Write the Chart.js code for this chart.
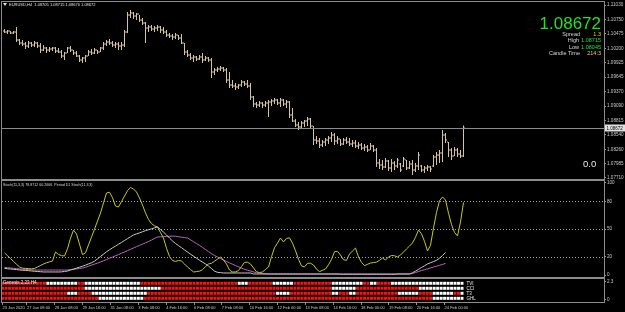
<!DOCTYPE html>
<html>
<head>
<meta charset="utf-8">
<script src="https://cdn.jsdelivr.net/npm/chart.js@4.4.1/dist/chart.umd.min.js"></script>
<style>
  html, body { margin: 0; padding: 0; background: #000; }
  #wrap { position: relative; width: 625px; height: 312px; overflow: hidden; background: #000; }
  canvas { position: absolute; left: 0; }
</style>
</head>
<body>
<div id="wrap">
  <canvas id="priceChart" width="625" height="180" style="top:0px"></canvas>
  <canvas id="stochChart" width="625" height="98" style="top:180px"></canvas>
  <canvas id="matrixChart" width="625" height="34" style="top:278px"></canvas>
</div>
<script>
// EURUSD H4 bars, 23 Jan -> 24 Feb 2020
const opens = [
  1.10531, 1.10512, 1.10531, 1.10492, 1.10512, 1.10358, 1.10300, 1.10281, 1.10243, 1.10300,
  1.10262, 1.10300, 1.10243, 1.10166, 1.10204, 1.10166, 1.10185, 1.10204, 1.10147, 1.10128,
  1.10051, 1.10108, 1.10204, 1.10166, 1.10108, 1.10051, 1.09974, 1.10012, 1.10051, 1.10128,
  1.10108, 1.10166, 1.10128, 1.10204, 1.10281, 1.10320, 1.10300, 1.10262, 1.10281, 1.10243,
  1.10262, 1.10512, 1.10838, 1.10876, 1.10819, 1.10857, 1.10742, 1.10684, 1.10588, 1.10608,
  1.10569, 1.10588, 1.10608, 1.10550, 1.10512, 1.10454, 1.10435, 1.10416, 1.10454, 1.10396,
  1.10300, 1.10128, 1.10070, 1.10012, 1.10032, 1.09993, 1.10032, 1.09974, 1.10012, 1.09974,
  1.09744, 1.09782, 1.09801, 1.09820, 1.09782, 1.09590, 1.09494, 1.09475, 1.09456, 1.09494,
  1.09552, 1.09513, 1.09475, 1.09264, 1.09129, 1.09110, 1.09148, 1.09110, 1.09148, 1.09168,
  1.09187, 1.09206, 1.09148, 1.09206, 1.09129, 1.09168, 1.08918, 1.08803, 1.08726, 1.08688,
  1.08764, 1.08803, 1.08841, 1.08707, 1.08438, 1.08419, 1.08342, 1.08400, 1.08438, 1.08476,
  1.08534, 1.08419, 1.08457, 1.08361, 1.08438, 1.08400, 1.08361, 1.08380, 1.08323, 1.08342,
  1.08284, 1.08304, 1.08246, 1.08323, 1.08246, 1.07996, 1.07958, 1.07920, 1.08035, 1.07900,
  1.07996, 1.07939, 1.07977, 1.07939, 1.08054, 1.07900, 1.07977, 1.07862, 1.07939, 1.07939,
  1.07862, 1.07900, 1.07920, 1.07939, 1.08112, 1.08150, 1.08188, 1.08534, 1.08400, 1.08246,
  1.08131, 1.08246, 1.08169, 1.08131
];
const highs = [
  1.10569, 1.10550, 1.10531, 1.10531, 1.10608, 1.10377, 1.10358, 1.10320, 1.10339, 1.10320,
  1.10339, 1.10320, 1.10300, 1.10262, 1.10224, 1.10224, 1.10224, 1.10224, 1.10204, 1.10166,
  1.10128, 1.10224, 1.10243, 1.10166, 1.10147, 1.10070, 1.10032, 1.10070, 1.10166, 1.10185,
  1.10204, 1.10166, 1.10224, 1.10320, 1.10358, 1.10377, 1.10339, 1.10320, 1.10320, 1.10320,
  1.10550, 1.10896, 1.10934, 1.10896, 1.10876, 1.10838, 1.10780, 1.10704, 1.10646, 1.10646,
  1.10627, 1.10646, 1.10627, 1.10608, 1.10550, 1.10492, 1.10473, 1.10492, 1.10454, 1.10473,
  1.10300, 1.10166, 1.10108, 1.10070, 1.10051, 1.10070, 1.10108, 1.10051, 1.10032, 1.10012,
  1.09820, 1.09840, 1.09859, 1.09840, 1.09820, 1.09744, 1.09590, 1.09532, 1.09513, 1.09590,
  1.09571, 1.09590, 1.09532, 1.09283, 1.09168, 1.09187, 1.09168, 1.09187, 1.09206, 1.09225,
  1.09244, 1.09225, 1.09244, 1.09225, 1.09206, 1.09187, 1.09052, 1.08841, 1.08784, 1.08803,
  1.08822, 1.08880, 1.08860, 1.08707, 1.08515, 1.08476, 1.08438, 1.08476, 1.08515, 1.08592,
  1.08572, 1.08515, 1.08457, 1.08476, 1.08496, 1.08476, 1.08438, 1.08438, 1.08400, 1.08380,
  1.08361, 1.08342, 1.08380, 1.08342, 1.08284, 1.08073, 1.08054, 1.08092, 1.08054, 1.08073,
  1.08035, 1.08092, 1.07996, 1.08112, 1.08054, 1.08035, 1.08054, 1.07996, 1.08208, 1.07958,
  1.07939, 1.07958, 1.07939, 1.08150, 1.08208, 1.08246, 1.08630, 1.08572, 1.08400, 1.08284,
  1.08304, 1.08284, 1.08246, 1.08715
];
const lows = [
  1.10492, 1.10473, 1.10473, 1.10473, 1.10320, 1.10262, 1.10243, 1.10185, 1.10204, 1.10224,
  1.10224, 1.10204, 1.10108, 1.10147, 1.10108, 1.10128, 1.10147, 1.10108, 1.10108, 1.10012,
  1.09974, 1.10108, 1.10128, 1.10070, 1.10032, 1.09936, 1.09916, 1.09936, 1.10051, 1.10070,
  1.10089, 1.10089, 1.10128, 1.10166, 1.10243, 1.10262, 1.10224, 1.10204, 1.10166, 1.10166,
  1.10224, 1.10492, 1.10780, 1.10761, 1.10742, 1.10704, 1.10646, 1.10300, 1.10512, 1.10531,
  1.10512, 1.10531, 1.10492, 1.10473, 1.10416, 1.10396, 1.10358, 1.10377, 1.10358, 1.10281,
  1.10070, 1.10032, 1.09974, 1.09936, 1.09955, 1.09974, 1.09916, 1.09955, 1.09936, 1.09628,
  1.09686, 1.09744, 1.09763, 1.09744, 1.09532, 1.09436, 1.09436, 1.09398, 1.09417, 1.09456,
  1.09475, 1.09436, 1.09206, 1.09072, 1.09052, 1.09072, 1.09052, 1.09072, 1.08880, 1.09091,
  1.09129, 1.09110, 1.09072, 1.09091, 1.09052, 1.08860, 1.08784, 1.08688, 1.08630, 1.08668,
  1.08688, 1.08707, 1.08668, 1.08342, 1.08361, 1.08284, 1.08304, 1.08323, 1.08361, 1.08400,
  1.08342, 1.08361, 1.08323, 1.08342, 1.08361, 1.08323, 1.08304, 1.08284, 1.08265, 1.08246,
  1.08227, 1.08208, 1.08246, 1.08208, 1.07920, 1.07881, 1.07862, 1.07900, 1.07843, 1.07824,
  1.07862, 1.07900, 1.07824, 1.07920, 1.07862, 1.07881, 1.07766, 1.07824, 1.07862, 1.07824,
  1.07804, 1.07843, 1.07824, 1.07920, 1.07958, 1.07996, 1.08016, 1.08380, 1.08112, 1.08054,
  1.08131, 1.08112, 1.08092, 1.08112
];
const closes = [
  1.10512, 1.10531, 1.10492, 1.10512, 1.10358, 1.10300, 1.10281, 1.10243, 1.10300, 1.10262,
  1.10300, 1.10243, 1.10166, 1.10204, 1.10166, 1.10185, 1.10204, 1.10147, 1.10128, 1.10051,
  1.10108, 1.10204, 1.10166, 1.10108, 1.10051, 1.09974, 1.10012, 1.10051, 1.10128, 1.10108,
  1.10166, 1.10128, 1.10204, 1.10281, 1.10320, 1.10300, 1.10262, 1.10281, 1.10243, 1.10262,
  1.10512, 1.10838, 1.10876, 1.10819, 1.10857, 1.10742, 1.10684, 1.10588, 1.10608, 1.10569,
  1.10588, 1.10608, 1.10550, 1.10512, 1.10454, 1.10435, 1.10416, 1.10454, 1.10396, 1.10300,
  1.10128, 1.10070, 1.10012, 1.10032, 1.09993, 1.10032, 1.09974, 1.10012, 1.09974, 1.09744,
  1.09782, 1.09801, 1.09820, 1.09782, 1.09590, 1.09494, 1.09475, 1.09456, 1.09494, 1.09552,
  1.09513, 1.09475, 1.09264, 1.09129, 1.09110, 1.09148, 1.09110, 1.09148, 1.09168, 1.09187,
  1.09206, 1.09148, 1.09206, 1.09129, 1.09168, 1.08918, 1.08803, 1.08726, 1.08688, 1.08764,
  1.08803, 1.08841, 1.08707, 1.08438, 1.08419, 1.08342, 1.08400, 1.08438, 1.08476, 1.08534,
  1.08419, 1.08457, 1.08361, 1.08438, 1.08400, 1.08361, 1.08380, 1.08323, 1.08342, 1.08284,
  1.08304, 1.08246, 1.08323, 1.08246, 1.07996, 1.07958, 1.07920, 1.08035, 1.07900, 1.07996,
  1.07939, 1.08054, 1.07862, 1.08073, 1.07900, 1.07977, 1.07862, 1.07939, 1.08150, 1.07862,
  1.07900, 1.07920, 1.07881, 1.08112, 1.08150, 1.08188, 1.08534, 1.08438, 1.08246, 1.08131,
  1.08246, 1.08169, 1.08131, 1.08672
];
const priceTicks = [1.11030, 1.10750, 1.10475, 1.10200, 1.09925, 1.09645, 1.09370,
                    1.09090, 1.08815, 1.08540, 1.08260, 1.07985, 1.07710];
const lastPrice = 1.08672;

// Stochastic H4 main line (yellow) and D1 stochastic main / signal
const stochMain = [
  24.1, 21.0, 17.9, 14.8, 11.7, 8.7, 7.4, 7.2, 7.0, 6.7,
  7.1, 8.7, 10.3, 12.0, 13.3, 14.3, 15.2, 25.0, 22.4, 21.0,
  20.7, 28.5, 39.9, 48.8, 44.7, 33.5, 22.2, 24.1, 32.6, 41.1,
  49.7, 58.6, 67.4, 78.3, 89.1, 90.0, 84.1, 75.0, 73.9, 79.8,
  85.7, 91.6, 95.1, 93.5, 90.2, 83.7, 76.0, 67.5, 60.4, 55.9,
  53.5, 52.2, 46.2, 40.2, 29.1, 20.2, 15.7, 14.8, 15.7, 15.2,
  12.0, 8.7, 6.0, 3.3, 3.7, 4.2, 5.7, 9.1, 12.0, 12.7,
  15.0, 17.3, 19.6, 16.3, 12.0, 5.4, 3.3, 3.3, 4.8, 9.2,
  13.7, 13.9, 12.0, 7.7, 3.6, 2.6, 3.3, 6.0, 8.7, 19.8,
  29.7, 34.7, 40.2, 35.9, 39.8, 40.4, 34.6, 26.4, 17.1, 9.8,
  8.9, 12.8, 12.8, 10.9, 6.3, 3.7, 5.1, 6.5, 11.1, 17.0,
  25.4, 25.7, 21.7, 16.5, 16.0, 22.8, 26.1, 29.3, 19.6, 13.7,
  10.2, 11.6, 13.0, 13.5, 14.0, 15.9, 18.5, 16.3, 19.6, 21.2,
  20.9, 19.6, 21.7, 25.0, 28.3, 31.5, 34.8, 41.1, 48.9, 44.8,
  36.5, 26.1, 32.3, 51.1, 68.0, 80.7, 84.8, 81.5, 67.2, 54.8,
  46.3, 42.4, 57.6, 78.9
];
const d1Main = [
  7.2, 6.8, 6.5, 6.2, 5.9, 5.5, 5.2, 5.0, 4.7, 4.4,
  4.1, 3.8, 3.6, 3.3, 3.3, 3.3, 3.3, 3.3, 3.3, 3.4,
  3.9, 4.3, 5.4, 6.4, 7.4, 8.5, 9.5, 10.7, 12.0, 13.3,
  15.0, 17.5, 20.1, 22.7, 25.2, 27.4, 29.5, 31.4, 33.5, 35.4,
  37.5, 39.5, 41.5, 43.5, 44.7, 45.8, 47.0, 48.2, 49.2, 50.2,
  51.2, 52.2, 49.5, 46.7, 43.5, 40.2, 37.0, 34.3, 31.9, 29.7,
  27.3, 25.0, 22.7, 20.4, 18.3, 16.0, 14.0, 12.1, 9.8, 7.0,
  4.2, 2.9, 2.6, 2.2, 2.2, 2.2, 2.2, 2.2, 2.2, 2.2,
  2.2, 2.2, 2.2, 1.1, 1.1, 1.1, 1.1, 1.1, 1.1, 1.1,
  1.1, 1.1, 1.1, 1.1, 1.1, 1.1, 1.1, 1.1, 1.1, 1.1,
  1.1, 1.1, 1.1, 1.1, 1.1, 1.1, 1.1, 1.1, 1.1, 1.1,
  1.1, 1.1, 1.1, 1.1, 1.1, 1.1, 1.1, 1.1, 1.1, 1.1,
  1.1, 1.1, 1.1, 1.1, 1.1, 1.1, 1.1, 1.1, 1.1, 1.1,
  1.1, 1.1, 1.1, 1.1, 1.1, 1.1, 2.4, 4.2, 6.2, 8.2,
  10.0, 12.0, 13.3, 14.6, 15.9, 18.3, 21.1, 24.5, null, null,
  null, null, null, null
];
const d1Signal = [
  8.3, 7.9, 7.6, 7.3, 7.0, 6.6, 6.3, 6.1, 5.9, 5.7,
  5.4, 5.4, 5.4, 5.4, 5.4, 5.4, 5.4, 5.4, 5.4, 5.4,
  5.4, 5.4, 5.9, 6.2, 6.6, 7.1, 7.5, 8.4, 9.6, 10.7,
  11.8, 12.9, 14.1, 15.4, 16.8, 18.2, 19.5, 20.9, 22.2, 23.6,
  25.0, 26.5, 27.9, 29.3, 30.8, 32.2, 33.6, 34.9, 36.4, 38.0,
  39.7, 41.3, 41.5, 41.7, 42.0, 42.1, 42.3, 42.1, 41.6, 41.2,
  40.7, 40.2, 38.3, 36.2, 34.2, 32.2, 30.0, 27.7, 25.5, 23.3,
  21.2, 19.6, 17.9, 16.3, 14.7, 13.2, 11.7, 10.3, 8.9, 7.5,
  6.2, 5.3, 4.3, 3.4, 2.5, 2.0, 1.6, 1.3, 1.1, 1.1,
  1.1, 1.1, 1.1, 1.1, 1.1, 1.1, 1.1, 1.1, 1.1, 1.1,
  1.1, 1.1, 1.1, 1.1, 1.1, 1.1, 1.1, 1.1, 1.1, 1.1,
  1.1, 1.1, 0.5, 0.5, 0.5, 0.5, 0.5, 0.5, 0.5, 0.5,
  0.5, 0.5, 0.5, 0.5, 0.5, 0.5, 0.5, 0.5, 0.5, 0.5,
  0.5, 1.1, 1.1, 1.1, 1.1, 1.1, 1.7, 2.7, 3.8, 4.8,
  5.8, 6.6, 7.6, 8.6, 9.6, 10.5, 11.5, 12.6, null, null,
  null, null, null, null
];
const stochLevels = [20, 50, 80];
const stochTicks = [0, 20, 50, 80, 100];

// Genesis matrix, one cell per bar, as runs of [count, state]: R = red, W = white
const matrixRows = ['TVI', 'CCI', 'T3', 'GHL'];
const matrixRuns = [
  [[13, 'R'], [9, 'W'], [2, 'R'], [16, 'W'], [28, 'R'], [3, 'W'], [7, 'R'], [6, 'W'], [11, 'R'],
   [9, 'W'], [2, 'R'], [2, 'W'], [4, 'R'], [21, 'W']],
  [[24, 'R'], [22, 'W'], [49, 'R'], [7, 'W'], [18, 'R'], [13, 'W']],
  [[19, 'R'], [3, 'W'], [4, 'R'], [16, 'W'], [37, 'R'], [4, 'W'], [12, 'R'], [2, 'W'], [3, 'R'],
   [2, 'W'], [12, 'R'], [6, 'W'], [4, 'R'], [6, 'W'], [2, 'R'], [1, 'W']],
  [[28, 'R'], [13, 'W'], [83, 'R'], [9, 'W']]
];

const timeLabels = ['23 Jan 2020', '27 Jan 08:00', '28 Jan 08:00', '29 Jan 16:00', '31 Jan 08:00',
  '3 Feb 08:00', '4 Feb 16:00', '6 Feb 08:00', '7 Feb 08:00', '10 Feb 16:00', '12 Feb 00:00',
  '13 Feb 08:00', '14 Feb 16:00', '18 Feb 00:00', '19 Feb 08:00', '20 Feb 16:00', '24 Feb 00:00'];
const timeLabelBars = [0, 7, 15, 23, 31, 39, 47, 55, 63, 71, 79, 87, 95, 103, 111, 119, 127];

// Styles
const FONT = '"Liberation Sans", Arial, sans-serif';
const BAR_COLOR = '#d6c49c';
const FRAME_COLOR = '#8c8c8c';
const AXIS_TEXT = '#c8c8c8';
const GREEN = '#22e022';
const GOLD = '#f0d020';

Chart.defaults.font.family = FONT;
Chart.defaults.color = AXIS_TEXT;

// expand the runs into one state per cell
const matrixCells = matrixRuns.map(runs => {
  const cells = [];
  runs.forEach(([n, s]) => { for (let k = 0; k < n; k++) cells.push(s); });
  return cells;
});

// fixed axis width so the three panes line up
function rightAxis(extra) {
  return Object.assign({
    position: 'right',
    afterFit: s => { s.width = 21; s.paddingTop = 0; s.paddingBottom = 0; },
    grid: { drawOnChartArea: false, drawTicks: true, tickLength: 2, color: '#909090' },
    border: { display: false }
  }, extra);
}

const framePlugin = {
  id: 'frame',
  beforeDraw(chart) {
    const { ctx, chartArea: a } = chart;
    ctx.save();
    ctx.strokeStyle = FRAME_COLOR;
    ctx.lineWidth = 1;
    ctx.strokeRect(a.left - 0.5, a.top - 0.5, a.right - a.left + 1, a.bottom - a.top + 1);
    ctx.restore();
  }
};

function txt(ctx, s, x, y, color, size, align) {
  ctx.fillStyle = color;
  ctx.font = size + 'px ' + FONT;
  ctx.textAlign = align || 'left';
  ctx.textBaseline = 'middle';
  ctx.fillText(s, x, y);
}

// open / close ticks of the OHLC bars
const ohlcTicks = {
  id: 'ohlcTicks',
  afterDatasetsDraw(chart) {
    const { ctx, scales: { x, y } } = chart;
    ctx.save();
    ctx.fillStyle = BAR_COLOR;
    opens.forEach((o, i) => {
      const px = Math.floor(x.getPixelForValue(i));
      ctx.fillRect(px - 1, Math.round(y.getPixelForValue(o)) - 0.5, 1, 1);
      ctx.fillRect(px + 1, Math.round(y.getPixelForValue(closes[i])) - 0.5, 1, 1);
    });
    ctx.restore();
  }
};

const priceInfo = {
  id: 'priceInfo',
  afterDraw(chart) {
    const { ctx, chartArea: a, scales: { y } } = chart;
    ctx.save();
    const py = Math.round(y.getPixelForValue(lastPrice)) + 0.5;
    ctx.strokeStyle = '#8c8c8c';
    ctx.lineWidth = 1;
    ctx.beginPath();
    ctx.moveTo(a.left, py);
    ctx.lineTo(a.right, py);
    ctx.stroke();
    ctx.fillStyle = '#e0e0e0';
    ctx.fillRect(a.right + 1, py - 4, 20, 7);
    txt(ctx, lastPrice.toFixed(5), a.right + 2.5, py, '#000', 4.5);

    // header
    ctx.fillStyle = '#e0e0e0';
    ctx.beginPath();
    ctx.moveTo(3, 3); ctx.lineTo(7, 3); ctx.lineTo(5, 6); ctx.closePath(); ctx.fill();
    txt(ctx, 'EURUSD,H4  1.08705 1.08715 1.08670 1.08672', 9, 4.5, '#e0e0e0', 4);

    // info block
    ctx.fillStyle = GREEN;
    ctx.font = '17px ' + FONT;
    ctx.textAlign = 'right';
    ctx.textBaseline = 'alphabetic';
    ctx.fillText('1.08672', 601, 29);
    txt(ctx, 'Spread', 580, 34, '#d8d8d8', 5.5, 'right');
    txt(ctx, '1.3', 601, 34, GOLD, 5.5, 'right');
    txt(ctx, 'High', 579, 40.5, '#d8d8d8', 5.5, 'right');
    txt(ctx, '1.08715', 601, 40.5, GREEN, 5.5, 'right');
    txt(ctx, 'Low', 579, 47, '#d8d8d8', 5.5, 'right');
    txt(ctx, '1.08045', 601, 47, GREEN, 5.5, 'right');
    txt(ctx, 'Candle Time', 580, 53.5, '#d8d8d8', 5.5, 'right');
    txt(ctx, '214:3', 601, 53.5, GOLD, 5.5, 'right');
    txt(ctx, '0.0', 583, 164, '#e8e8e8', 9.5, 'left');
    ctx.restore();
  }
};

const axisFont = { size: 4.6 };

new Chart(document.getElementById('priceChart'), {
  type: 'bar',
  data: {
    datasets: [{
      data: highs.map((h, i) => ({ x: i, y: [lows[i], h] })),
      backgroundColor: BAR_COLOR,
      borderWidth: 0,
      barThickness: 1,
      inflateAmount: 0
    }]
  },
  options: {
    responsive: false,
    animation: false,
    events: [],
    layout: { padding: { left: 2, top: 2, right: 0, bottom: 1 }, autoPadding: false },
    scales: {
      x: { type: 'linear', offset: false, min: -0.8333, max: 199.8333, display: false },
      y: rightAxis({
        type: 'linear', min: 1.07689, max: 1.11088,
        afterBuildTicks: s => { s.ticks = priceTicks.map(v => ({ value: v })); },
        ticks: { font: axisFont, color: AXIS_TEXT, padding: 1, autoSkip: false, callback: v => v.toFixed(5) }
      })
    },
    plugins: { legend: { display: false }, tooltip: { enabled: false } }
  },
  plugins: [framePlugin, ohlcTicks, priceInfo]
});

const stochDecor = {
  id: 'stochDecor',
  beforeDatasetsDraw(chart) {
    const { ctx, chartArea: a, scales: { y } } = chart;
    ctx.save();
    ctx.strokeStyle = '#a0a0a0';
    ctx.lineWidth = 1;
    ctx.setLineDash([1, 2]);
    stochLevels.forEach(v => {
      const py = Math.round(y.getPixelForValue(v)) + 0.5;
      ctx.beginPath();
      ctx.moveTo(a.left, py);
      ctx.lineTo(a.right, py);
      ctx.stroke();
    });
    ctx.restore();
  },
  afterDraw(chart) {
    const { ctx } = chart;
    ctx.save();
    txt(ctx, 'Stoch(11,3,3) 78.8712 60.2666  Period D1 Stoch(11,3,3)', 3, 4.5, '#d8d8d8', 3.6);
    ctx.restore();
  }
};

const toPoints = arr => arr.map((v, i) => ({ x: i, y: v }));

new Chart(document.getElementById('stochChart'), {
  type: 'line',
  data: {
    datasets: [
      { data: toPoints(stochMain), borderColor: '#c8c81a', borderWidth: 1 },
      { data: toPoints(d1Main), borderColor: '#c8c8c8', borderWidth: 1 },
      { data: toPoints(d1Signal), borderColor: '#c060c8', borderWidth: 1 }
    ]
  },
  options: {
    responsive: false,
    animation: false,
    events: [],
    elements: { point: { radius: 0 }, line: { tension: 0 } },
    spanGaps: false,
    layout: { padding: { left: 2, top: 1, right: 0, bottom: 1 }, autoPadding: false },
    scales: {
      x: { type: 'linear', offset: false, min: -0.8333, max: 199.8333, display: false },
      y: rightAxis({
        type: 'linear', min: -2.17, max: 102.17,
        afterBuildTicks: s => { s.ticks = stochTicks.map(v => ({ value: v })); },
        ticks: { font: axisFont, color: AXIS_TEXT, padding: 1, autoSkip: false, callback: v => String(v) }
      })
    },
    plugins: { legend: { display: false }, tooltip: { enabled: false } }
  },
  plugins: [framePlugin, stochDecor]
});

const matrixDecor = {
  id: 'matrixDecor',
  afterDraw(chart) {
    const { ctx, scales: { x, y } } = chart;
    ctx.save();
    txt(ctx, 'Genesis 2.23 H4', 3, 5, '#f0f0f0', 4.5);
    const endX = x.getPixelForValue(matrixCells[0].length) + 1;
    matrixRows.forEach((name, r) => {
      txt(ctx, name, endX, y.getPixelForValue(2.134 - r * 0.64), '#e8e8e8', 4.5);
    });
    ctx.restore();
  }
};

new Chart(document.getElementById('matrixChart'), {
  type: 'scatter',
  data: {
    datasets: matrixRows.map((name, r) => ({
      label: name,
      data: matrixCells[r].map((c, k) => ({ x: k, y: 2.134 - r * 0.64 })),
      pointStyle: 'rect',
      pointRadius: 2.1,
      pointBorderWidth: 0,
      pointBackgroundColor: matrixCells[r].map(c => c === 'R' ? '#ff1010' : '#ffffff')
    }))
  },
  options: {
    responsive: false,
    animation: false,
    events: [],
    layout: { padding: { left: 2, top: 1, right: 0, bottom: 0 }, autoPadding: false },
    scales: {
      x: {
        type: 'linear', offset: false, min: -0.172, max: 172.8, position: 'bottom',
        afterBuildTicks: s => { s.ticks = timeLabelBars.map(v => ({ value: v })); },
        afterFit: s => { s.height = 10; s.paddingLeft = 0; s.paddingRight = 0; },
        ticks: {
          font: { size: 4 }, color: AXIS_TEXT, padding: 0, autoSkip: false,
          maxRotation: 0, minRotation: 0, align: 'start',
          callback: (v, idx) => timeLabels[idx]
        },
        grid: { drawOnChartArea: false, drawTicks: true, tickLength: 3, color: '#909090' },
        border: { display: false }
      },
      y: rightAxis({
        type: 'linear', min: -0.2556, max: 2.683,
        afterBuildTicks: s => { s.ticks = [{ value: 0 }, { value: 2.3 }]; },
        ticks: { font: axisFont, color: AXIS_TEXT, padding: 1, autoSkip: false, callback: v => String(v) }
      })
    },
    plugins: { legend: { display: false }, tooltip: { enabled: false } }
  },
  plugins: [framePlugin, matrixDecor]
});
</script>
</body>
</html>
